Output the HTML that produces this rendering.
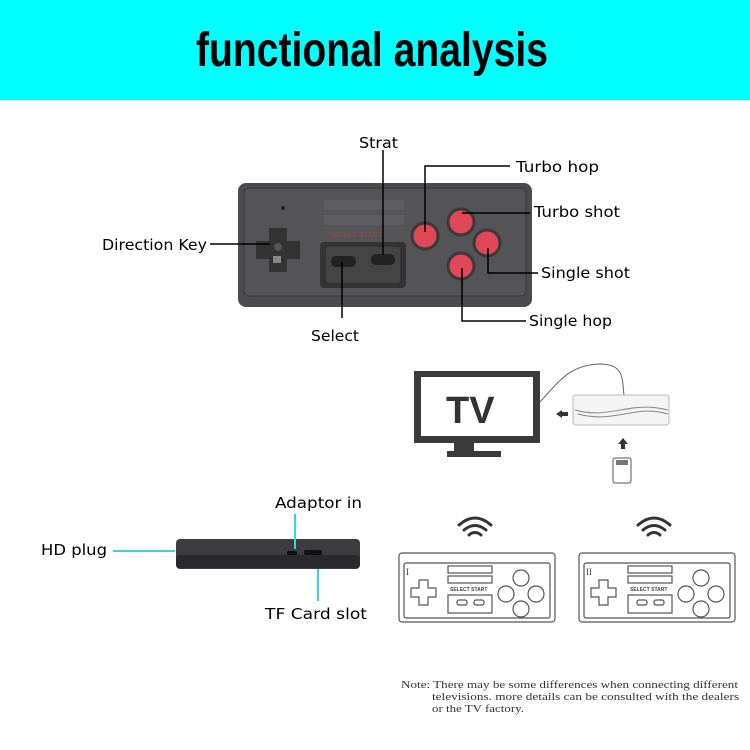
<!DOCTYPE html>
<html><head><meta charset="utf-8"><style>
html,body{margin:0;padding:0;background:#fff;}
svg{display:block}
.s{font-family:"DejaVu Sans","Liberation Sans",sans-serif;}
.t{font-family:"Liberation Sans",sans-serif;}
.n{font-family:"Liberation Serif",serif;}
</style></head><body>
<svg width="750" height="750" viewBox="0 0 750 750" xmlns="http://www.w3.org/2000/svg">
<rect x="0" y="0" width="750" height="100" fill="#00ffff"/>
<text class="t" x="196" y="66" font-size="48" font-weight="bold" textLength="352" lengthAdjust="spacingAndGlyphs" fill="#000">functional analysis</text>

<rect x="238" y="183" width="294" height="124" rx="8" fill="#4b4b4d"/>
<rect x="244" y="188" width="282" height="108" rx="5" fill="#545456" stroke="#3a3a3a"/>
<circle cx="283" cy="208" r="2" fill="#222"/>
<rect x="324" y="200" width="80" height="10" fill="#5e5e60"/>
<rect x="324" y="215" width="80" height="10" fill="#5e5e60"/>
<text class="t" x="330" y="237" font-size="7" fill="#a04848">SELECT  START</text>
<rect x="320" y="242" width="86" height="46" rx="4" fill="#333"/>
<rect x="326" y="247" width="74" height="36" rx="3" fill="#444"/>
<rect x="331" y="256" width="25" height="11" rx="5" fill="#222"/>
<rect x="371" y="254" width="24" height="11" rx="5" fill="#222"/>
<path d="M269 228h18v13h13v18h-13v13h-18v-13h-13v-18h13z" fill="#333"/>
<circle cx="278" cy="247" r="4" fill="#555"/>
<rect x="273" y="256" width="8" height="7" fill="#888"/>
<g fill="#e04858" stroke="#3a3a3a" stroke-width="3">
<circle cx="461" cy="222" r="13"/>
<circle cx="425" cy="236" r="13"/>
<circle cx="487" cy="243" r="13"/>
<circle cx="461" cy="266" r="13"/>
</g>
<g stroke="#000" stroke-width="1.5" fill="none">
<polyline points="383,150 383,255"/>
<polyline points="510,166 425,166 425,232"/>
<polyline points="530,213 462,213"/>
<polyline points="210,244 270,244"/>
<polyline points="538,273 488,273 488,248"/>
<polyline points="526,321 462,321 462,268"/>
<polyline points="342,318 342,262"/>
</g>
<g class="s" font-size="15" fill="#000">
<text x="359" y="148" textLength="39" lengthAdjust="spacingAndGlyphs">Strat</text>
<text x="516" y="172" textLength="83" lengthAdjust="spacingAndGlyphs">Turbo hop</text>
<text x="534" y="217" textLength="86" lengthAdjust="spacingAndGlyphs">Turbo shot</text>
<text x="102" y="250" textLength="105" lengthAdjust="spacingAndGlyphs">Direction Key</text>
<text x="541" y="278" textLength="89" lengthAdjust="spacingAndGlyphs">Single shot</text>
<text x="529" y="326" textLength="83" lengthAdjust="spacingAndGlyphs">Single hop</text>
<text x="311" y="341" textLength="48" lengthAdjust="spacingAndGlyphs">Select</text>
</g>

<rect x="414" y="371" width="126" height="72" fill="#3a3a3a"/>
<rect x="421" y="377" width="112" height="59" fill="#fff"/>
<text class="t" x="446" y="423" font-size="38" font-weight="bold" fill="#333">TV</text>
<rect x="454" y="443" width="20" height="9" fill="#3a3a3a"/>
<rect x="447" y="451" width="54" height="6" fill="#3a3a3a"/>
<path d="M540 402 C560 380 570 365 600 364 C625 364 622 380 624 395" stroke="#666" fill="none"/>
<rect x="573" y="395" width="96" height="30" rx="3" fill="#f4f4f4" stroke="#bbb"/>
<path d="M575 410 C610 420 630 400 668 410 M578 414 C615 424 635 404 668 414" stroke="#888" fill="none"/>
<path d="M556 414 l6 -4 v2 h6 v4 h-6 v2z" fill="#333"/>
<path d="M623 438 l-5 6 h3 v5 h4 v-5 h3z" fill="#333"/>
<rect x="613" y="458" width="18" height="25" rx="2" fill="#fff" stroke="#555"/>
<rect x="616" y="460" width="12" height="5" fill="#777"/>

<g stroke="#333" stroke-width="3" fill="none" stroke-linecap="round">
<path d="M459 525 q16 -14 32 0"/><path d="M464 530 q11 -9 22 0"/><path d="M469 535 q6 -5 12 0"/>
<path d="M638 525 q16 -14 32 0"/><path d="M643 530 q11 -9 22 0"/><path d="M648 535 q6 -5 12 0"/>
</g>
<g stroke="#555" fill="none" stroke-width="1.2">
<rect x="399" y="553" width="156" height="69" rx="3"/>
<rect x="404" y="563" width="146" height="55" rx="2"/>
<rect x="448" y="566" width="44" height="7"/><rect x="448" y="576" width="44" height="7"/>
<rect x="448" y="595" width="44" height="18"/>
<rect x="457" y="600" width="10" height="5" rx="2"/><rect x="474" y="600" width="10" height="5" rx="2"/>
<path d="M419 580h9v8h8v9h-8v8h-9v-8h-8v-9h8z"/>
<circle cx="521" cy="578" r="8"/><circle cx="506" cy="594" r="8"/><circle cx="536" cy="594" r="8"/><circle cx="521" cy="609" r="8"/>
<rect x="579" y="553" width="156" height="69" rx="3"/>
<rect x="584" y="563" width="146" height="55" rx="2"/>
<rect x="628" y="566" width="44" height="7"/><rect x="628" y="576" width="44" height="7"/>
<rect x="628" y="595" width="44" height="18"/>
<rect x="637" y="600" width="10" height="5" rx="2"/><rect x="654" y="600" width="10" height="5" rx="2"/>
<path d="M599 580h9v8h8v9h-8v8h-9v-8h-8v-9h8z"/>
<circle cx="701" cy="578" r="8"/><circle cx="686" cy="594" r="8"/><circle cx="716" cy="594" r="8"/><circle cx="701" cy="609" r="8"/>
</g>
<g class="t" font-size="5" font-weight="bold" fill="#444">
<text x="450" y="591">SELECT START</text><text x="630" y="591">SELECT START</text>
</g>
<text class="n" x="406" y="575" font-size="9" fill="#444">I</text>
<text class="n" x="586" y="575" font-size="9" fill="#444">II</text>

<path d="M180 539 h176 a4 4 0 0 1 4 4 v22 a4 4 0 0 1 -4 4 h-176 a4 4 0 0 1 -4 -4 v-22 a4 4 0 0 1 4 -4z" fill="#3c3c3e"/>
<rect x="176" y="555" width="184" height="13" rx="4" fill="#2a2a2c"/>
<rect x="287" y="551" width="10" height="4" rx="1" fill="#111"/>
<rect x="304" y="550" width="18" height="5" rx="2" fill="#111"/>
<g stroke="#33d6e6" stroke-width="2">
<line x1="113" y1="551" x2="175" y2="551"/>
<line x1="295" y1="514" x2="295" y2="549"/>
<line x1="318" y1="569" x2="318" y2="601"/>
</g>
<g class="s" font-size="15" fill="#000">
<text x="41" y="555" textLength="66" lengthAdjust="spacingAndGlyphs">HD plug</text>
<text x="275" y="508" textLength="87" lengthAdjust="spacingAndGlyphs">Adaptor in</text>
<text x="265" y="619" textLength="102" lengthAdjust="spacingAndGlyphs">TF Card slot</text>
</g>

<g class="n" font-size="10.5" fill="#333">
<text x="401" y="688" textLength="337" lengthAdjust="spacingAndGlyphs">Note: There may be some differences when connecting different</text>
<text x="432" y="700" textLength="307" lengthAdjust="spacingAndGlyphs">televisions. more details can be consulted with the dealers</text>
<text x="432" y="712" textLength="92" lengthAdjust="spacingAndGlyphs">or the TV factory.</text>
</g>
</svg>
</body></html>
